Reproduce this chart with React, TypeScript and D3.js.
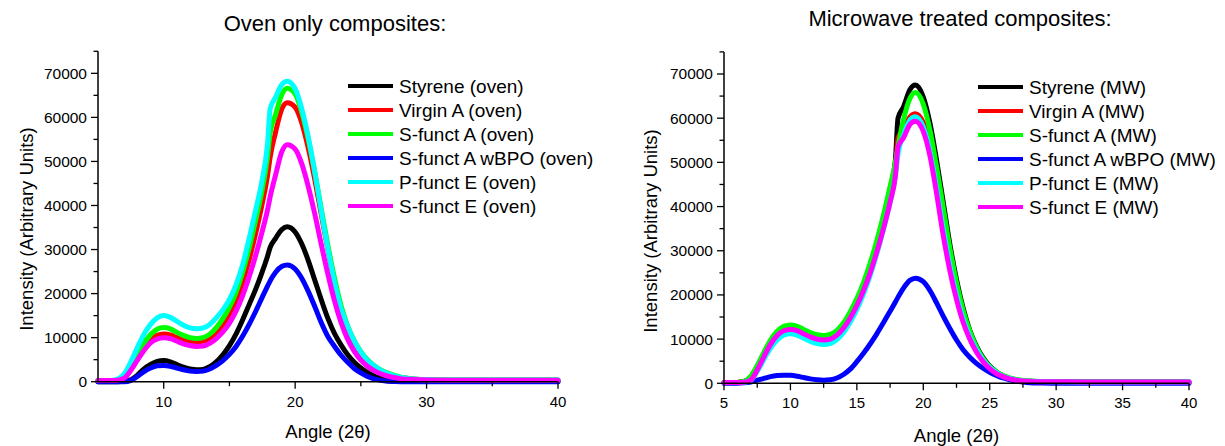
import React from "react";
import * as d3 from "d3";

// ---------- DATA ----------
const ANGLES = [5, 6, 6.5, 7, 7.5, 8, 8.5, 9, 9.5, 10, 10.5, 11, 11.5, 12, 12.5, 13, 13.5, 14, 14.5, 15, 15.5, 16, 16.5, 17, 17.5, 17.9, 18.1, 18.5, 19, 19.4, 20, 20.5, 21, 21.5, 22, 22.5, 23, 23.5, 24, 24.5, 25, 25.5, 26, 26.5, 27, 27.5, 28, 29, 30, 32, 34, 36, 38, 40];

// Oven only composites
const styreneOven = [0, 0, 0, 100, 400, 1500, 2900, 3900, 4600, 4800, 4500, 3900, 3300, 2900, 2700, 2800, 3400, 4500, 6100, 8200, 10800, 14000, 17500, 21000, 25000, 28500, 30500, 32500, 34600, 35200, 34000, 31300, 27500, 23000, 18500, 14300, 10900, 8300, 6100, 4400, 3100, 2100, 1300, 800, 450, 250, 150, 100, 100, 100, 100, 100, 100, 100];
const virginAOven = [200, 200, 300, 800, 2800, 5300, 7700, 9500, 10500, 10800, 10600, 10000, 9500, 9100, 9000, 9200, 9900, 11200, 13000, 15400, 18500, 22600, 27700, 33700, 40500, 46800, 51000, 56500, 62000, 63300, 62300, 58800, 53000, 45800, 37800, 29900, 22700, 16700, 12200, 9000, 6600, 4800, 3500, 2600, 1900, 1400, 1000, 600, 450, 350, 350, 350, 350, 350];
const sFunctAOven = [200, 200, 300, 1000, 3200, 6000, 8700, 10700, 11900, 12300, 12000, 11200, 10500, 10000, 9800, 10000, 10800, 12300, 14300, 16900, 20300, 24800, 30300, 36700, 43700, 51000, 56500, 60500, 65300, 66600, 65300, 61200, 55000, 47500, 39000, 30800, 23400, 17200, 12600, 9300, 6800, 5000, 3700, 2700, 2000, 1500, 1050, 600, 450, 400, 400, 400, 400, 400];
const sFunctAwBPOOven = [0, 0, 0, 0, 300, 1200, 2300, 3100, 3600, 3700, 3500, 3100, 2700, 2400, 2300, 2400, 2900, 3700, 4800, 6200, 8000, 10300, 13000, 16000, 19200, 21700, 22900, 24800, 26200, 26500, 25600, 23500, 20500, 17000, 13300, 10200, 8000, 6000, 4400, 3000, 2000, 1200, 650, 300, 100, 50, 0, 0, 0, 0, 0, 0, 0, 0];
const pFunctEOven = [300, 300, 600, 1800, 4500, 7800, 10800, 13000, 14500, 15000, 14600, 13700, 12800, 12200, 12000, 12200, 13000, 14500, 16300, 18700, 22000, 26500, 32500, 39000, 46000, 54000, 62000, 64500, 67500, 68200, 66500, 62000, 55500, 47500, 38500, 30000, 22500, 16500, 12500, 9200, 6700, 4900, 3600, 2600, 1900, 1400, 1000, 600, 450, 400, 400, 400, 400, 400];
const sFunctEOven = [300, 300, 350, 800, 2600, 4900, 7100, 8800, 9700, 10000, 9800, 9200, 8600, 8200, 8000, 8100, 8700, 9800, 11300, 13300, 16000, 19500, 23800, 28700, 34200, 39000, 42000, 46800, 52300, 53800, 52800, 49500, 44300, 38000, 31000, 24300, 18300, 13400, 9600, 6900, 4900, 3500, 2500, 1800, 1300, 950, 700, 500, 400, 350, 350, 350, 350, 350];

// Microwave treated composites
const styreneMW = [200, 200, 400, 1400, 3800, 6700, 9400, 11400, 12500, 12800, 12500, 11800, 11100, 10600, 10400, 10700, 11600, 13300, 15700, 18700, 22300, 26600, 31700, 37500, 44000, 50500, 60000, 62500, 66500, 67500, 64800, 58900, 50500, 41000, 31500, 23500, 17000, 12000, 8400, 5800, 3900, 2600, 1700, 1100, 750, 550, 450, 350, 300, 300, 300, 300, 300, 300];
const virginAMW = [200, 200, 300, 800, 3200, 6200, 9000, 11000, 12100, 12400, 12100, 11400, 10700, 10200, 10000, 10200, 11100, 12700, 15000, 17900, 21400, 25500, 30300, 35800, 42000, 48000, 55500, 57500, 60300, 61000, 59000, 53300, 44800, 35500, 27200, 20300, 14800, 10700, 7600, 5300, 3600, 2400, 1600, 1100, 750, 550, 450, 400, 350, 300, 300, 300, 300, 300];
const sFunctAMW = [200, 200, 400, 1500, 4000, 7000, 9800, 11800, 12900, 13200, 12900, 12200, 11500, 11000, 10800, 11100, 12000, 13700, 16200, 19200, 22800, 27200, 32300, 38000, 44500, 50000, 53500, 59500, 64500, 65800, 63200, 57300, 49000, 39800, 30600, 22800, 16500, 11800, 8200, 5600, 3800, 2600, 1750, 1200, 850, 650, 500, 400, 350, 300, 300, 300, 300, 300];
const sFunctAwBPOMW = [0, 0, 100, 300, 700, 1100, 1500, 1750, 1850, 1800, 1600, 1300, 1000, 800, 700, 800, 1200, 2000, 3200, 4900, 6800, 8900, 11200, 13700, 16300, 18400, 19500, 21500, 23300, 23800, 23000, 21000, 18200, 15200, 12400, 9800, 7600, 5900, 4500, 3400, 2500, 1800, 1200, 800, 500, 300, 150, 50, 0, 0, 0, 0, 0, 0];
const pFunctEMW = [200, 200, 250, 600, 2700, 5400, 7900, 9800, 10900, 11200, 10900, 10200, 9500, 9000, 8800, 9000, 9900, 11500, 13800, 16700, 20200, 24400, 29300, 34800, 41000, 46800, 52000, 56000, 59600, 60300, 58000, 52500, 44200, 35000, 26800, 20000, 14600, 10600, 7600, 5300, 3600, 2400, 1600, 1100, 750, 550, 450, 400, 350, 300, 300, 300, 300, 300];
const sFunctEMW = [200, 200, 250, 700, 3000, 6000, 8800, 10800, 11900, 12200, 11900, 11200, 10500, 10000, 9800, 10000, 10900, 12500, 14800, 17600, 21000, 25000, 29700, 35000, 41000, 47000, 53500, 55500, 58600, 59300, 57000, 51500, 43000, 33500, 25500, 19000, 13800, 10000, 7100, 4900, 3300, 2200, 1500, 1000, 700, 500, 400, 350, 350, 300, 300, 300, 300, 300];

const OVEN_NAMES = ["Styrene (oven)", "Virgin A (oven)", "S-funct A (oven)", "S-funct A wBPO (oven)", "P-funct E (oven)", "S-funct E (oven)"];
const MW_NAMES = ["Styrene (MW)", "Virgin A (MW)", "S-funct A (MW)", "S-funct A wBPO (MW)", "P-funct E (MW)", "S-funct E (MW)"];
const OVEN_SERIES = [styreneOven, virginAOven, sFunctAOven, sFunctAwBPOOven, pFunctEOven, sFunctEOven];
const MW_SERIES = [styreneMW, virginAMW, sFunctAMW, sFunctAwBPOMW, pFunctEMW, sFunctEMW];
const COLORS = ["#000000", "#ff0000", "#00ff00", "#0000ff", "#00ffff", "#ff00ff"];

const Y_MAJOR = [0, 10000, 20000, 30000, 40000, 50000, 60000, 70000];
const Y_MINOR = [5000, 15000, 25000, 35000, 45000, 55000, 65000, 75000];
const OVEN_X_MAJOR = [10, 20, 30, 40];
const OVEN_X_MINOR = [15, 25, 35];
const MW_X_MAJOR = [5, 10, 15, 20, 25, 30, 35, 40];
const MW_X_MINOR = [7.5, 12.5, 17.5, 22.5, 27.5, 32.5, 37.5];

const FONT = "'Liberation Sans', Arial, Helvetica, sans-serif";

type PanelProps = {
  title: string;
  titleX: number;
  titleY: number;
  x0: number;
  x1: number;
  y0: number;
  yTop: number;
  series: number[][];
  names: string[];
  xMajor: number[];
  xMinor: number[];
  legendX: number;
  legendY: number;
  yTitleX: number;
  yTitleY: number;
  xTitleY: number;
  xLabelY: number;
};

function Panel(p: PanelProps) {
  const x = d3.scaleLinear().domain([5, 40]).range([p.x0, p.x1]);
  const y = d3.scaleLinear().domain([0, 75000]).range([p.y0, p.yTop]);
  const line = d3
    .line<number>()
    .x((_, i) => x(ANGLES[i]))
    .y((v) => y(v))
    .curve(d3.curveMonotoneX);
  const cx = (p.x0 + p.x1) / 2;
  return (
    <g>
      <text x={p.titleX} y={p.titleY} textAnchor="middle" fontSize={22} fontFamily={FONT} fill="#000">
        {p.title}
      </text>
      {p.series.map((s, i) => (
        <path key={i} d={line(s) || ""} fill="none" stroke={COLORS[i]} strokeWidth={5} strokeLinejoin="round" strokeLinecap="round" />
      ))}
      {/* axes */}
      <line x1={p.x0} x2={p.x0} y1={p.y0} y2={y(75000)} stroke="#000" strokeWidth={1.5} />
      <line x1={p.x0} x2={p.x1} y1={p.y0} y2={p.y0} stroke="#000" strokeWidth={1.5} />
      {Y_MAJOR.map((v) => (
        <g key={"ym" + v}>
          <line x1={p.x0 - 7} x2={p.x0} y1={y(v)} y2={y(v)} stroke="#000" strokeWidth={1.3} />
          <text x={p.x0 - 11} y={y(v)} dy="0.35em" textAnchor="end" fontSize={15.5} fontFamily={FONT} fill="#000">
            {String(v)}
          </text>
        </g>
      ))}
      {Y_MINOR.map((v) => (
        <line key={"yn" + v} x1={p.x0 - 4.5} x2={p.x0} y1={y(v)} y2={y(v)} stroke="#000" strokeWidth={1.3} />
      ))}
      {p.xMajor.map((v) => (
        <g key={"xm" + v}>
          <line x1={x(v)} x2={x(v)} y1={p.y0} y2={p.y0 + 7} stroke="#000" strokeWidth={1.3} />
          <text x={x(v)} y={p.xLabelY} textAnchor="middle" fontSize={15} fontFamily={FONT} fill="#000">
            {String(v)}
          </text>
        </g>
      ))}
      {p.xMinor.map((v) => (
        <line key={"xn" + v} x1={x(v)} x2={x(v)} y1={p.y0} y2={p.y0 + 4.5} stroke="#000" strokeWidth={1.3} />
      ))}
      <text x={cx} y={p.xTitleY} textAnchor="middle" fontSize={18.5} fontFamily={FONT} fill="#000">
        Angle (2θ)
      </text>
      <text
        transform={`translate(${p.yTitleX},${p.yTitleY}) rotate(-90)`}
        textAnchor="middle"
        dy="0.35em"
        fontSize={18.5}
        fontFamily={FONT}
        fill="#000"
      >
        Intensity (Arbitrary Units)
      </text>
      {/* legend */}
      {p.names.map((n, i) => (
        <g key={n}>
          <line x1={p.legendX} x2={p.legendX + 45} y1={p.legendY + i * 24} y2={p.legendY + i * 24} stroke={COLORS[i]} strokeWidth={4} />
          <text x={p.legendX + 51} y={p.legendY + i * 24} dy="0.35em" fontSize={19} fontFamily={FONT} fill="#000">
            {n}
          </text>
        </g>
      ))}
    </g>
  );
}

export default function App() {
  return (
    <svg
      width={1225}
      height={446}
      style={{ position: "absolute", left: 0, top: 0, background: "#fff" }}
    >
      <rect width={1225} height={446} fill="#fff" />
      <Panel
        title="Oven only composites:"
        titleX={335}
        titleY={31}
        x0={98}
        x1={558}
        y0={381.7}
        yTop={51.3}
        series={OVEN_SERIES}
        names={OVEN_NAMES}
        xMajor={OVEN_X_MAJOR}
        xMinor={OVEN_X_MINOR}
        legendX={348}
        legendY={86}
        yTitleX={27}
        yTitleY={229}
        xTitleY={438}
        xLabelY={407}
      />
      <Panel
        title="Microwave treated composites:"
        titleX={960}
        titleY={26}
        x0={724}
        x1={1189}
        y0={383.3}
        yTop={51.9}
        series={MW_SERIES}
        names={MW_NAMES}
        xMajor={MW_X_MAJOR}
        xMinor={MW_X_MINOR}
        legendX={978}
        legendY={87}
        yTitleX={651}
        yTitleY={231}
        xTitleY={441.5}
        xLabelY={408}
      />
    </svg>
  );
}
